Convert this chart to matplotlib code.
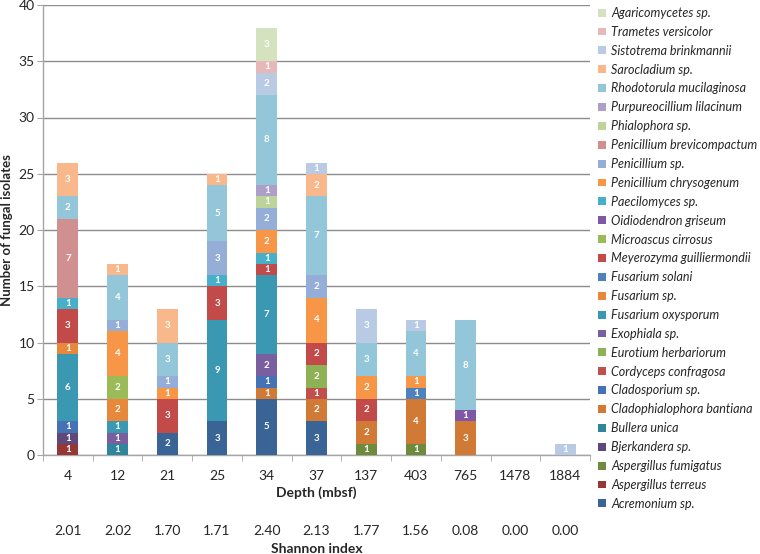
import matplotlib
matplotlib.use("Agg")
import matplotlib.pyplot as plt
import numpy as np
from matplotlib.patches import Patch

plt.rcParams['font.family'] = ['Lato', 'DejaVu Sans']

depths = ["4", "12", "21", "25", "34", "37", "137", "403", "765", "1478", "1884"]
shannon = ["2.01", "2.02", "1.70", "1.71", "2.40", "2.13", "1.77", "1.56", "0.08", "0.00", "0.00"]

# species in stacking order (bottom -> top)
species = [
    "Acremonium sp.", "Aspergillus terreus", "Aspergillus fumigatus", "Bjerkandera sp.",
    "Bullera unica", "Cladophialophora bantiana", "Cladosporium sp.", "Cordyceps confragosa",
    "Eurotium herbariorum", "Exophiala sp.", "Fusarium oxysporum", "Fusarium sp.",
    "Fusarium solani", "Meyerozyma guilliermondii", "Microascus cirrosus", "Oidiodendron griseum",
    "Paecilomyces sp.", "Penicillium chrysogenum", "Penicillium sp.", "Penicillium brevicompactum",
    "Phialophora sp.", "Purpureocillium lilacinum", "Rhodotorula mucilaginosa", "Sarocladium sp.",
    "Sistotrema brinkmannii", "Trametes versicolor", "Agaricomycetes sp.",
]

colors = [
    "#3B6496", "#953735", "#6E8B3D", "#5F497A",
    "#2E859C", "#D07A35", "#4472B4", "#C0504D",
    "#8DB255", "#7A5FA0", "#3A98B3", "#E8883A",
    "#4F81BD", "#C24A48", "#9BBB59", "#7E57A6",
    "#47AFC9", "#F79646", "#95AED8", "#D09090",
    "#BCD39A", "#AE9FC9", "#93C6D8", "#F9B88B",
    "#B9CBE4", "#E6B9B8", "#D4E2C0",
]

# counts per depth (4, 12, 21, 25, 34, 37, 137, 403, 765, 1478, 1884)
acremonium      = [0, 0, 2, 3, 5, 3, 0, 0, 0, 0, 0]
asp_terreus     = [1, 0, 0, 0, 0, 0, 0, 0, 0, 0, 0]
asp_fumigatus   = [0, 0, 0, 0, 0, 0, 1, 1, 0, 0, 0]
bjerkandera     = [1, 0, 0, 0, 0, 0, 0, 0, 0, 0, 0]
bullera         = [0, 1, 0, 0, 0, 0, 0, 0, 0, 0, 0]
cladophialophora= [0, 0, 0, 0, 1, 2, 2, 4, 3, 0, 0]
cladosporium    = [1, 0, 0, 0, 1, 0, 0, 0, 0, 0, 0]
cordyceps       = [0, 0, 0, 0, 0, 1, 0, 0, 0, 0, 0]
eurotium        = [0, 0, 0, 0, 0, 2, 0, 0, 0, 0, 0]
exophiala       = [0, 1, 0, 0, 2, 0, 0, 0, 0, 0, 0]
fus_oxysporum   = [6, 1, 0, 9, 7, 0, 0, 0, 0, 0, 0]
fusarium_sp     = [1, 2, 0, 0, 0, 0, 0, 0, 0, 0, 0]
fus_solani      = [0, 0, 0, 0, 0, 0, 0, 1, 0, 0, 0]
meyerozyma      = [3, 0, 3, 3, 1, 2, 2, 0, 0, 0, 0]
microascus      = [0, 2, 0, 0, 0, 0, 0, 0, 0, 0, 0]
oidiodendron    = [0, 0, 0, 0, 0, 0, 0, 0, 1, 0, 0]
paecilomyces    = [1, 0, 0, 1, 1, 0, 0, 0, 0, 0, 0]
pen_chrysogenum = [0, 4, 1, 0, 2, 4, 2, 1, 0, 0, 0]
penicillium_sp  = [0, 1, 1, 3, 2, 2, 0, 0, 0, 0, 0]
pen_brevicomp   = [7, 0, 0, 0, 0, 0, 0, 0, 0, 0, 0]
phialophora     = [0, 0, 0, 0, 1, 0, 0, 0, 0, 0, 0]
purpureocillium = [0, 0, 0, 0, 1, 0, 0, 0, 0, 0, 0]
rhodotorula     = [2, 4, 3, 5, 8, 7, 3, 4, 8, 0, 0]
sarocladium     = [3, 1, 3, 1, 0, 2, 0, 0, 0, 0, 0]
sistotrema      = [0, 0, 0, 0, 2, 1, 3, 1, 0, 0, 1]
trametes        = [0, 0, 0, 0, 1, 0, 0, 0, 0, 0, 0]
agaricomycetes  = [0, 0, 0, 0, 3, 0, 0, 0, 0, 0, 0]

series = [
    acremonium, asp_terreus, asp_fumigatus, bjerkandera, bullera, cladophialophora,
    cladosporium, cordyceps, eurotium, exophiala, fus_oxysporum, fusarium_sp,
    fus_solani, meyerozyma, microascus, oidiodendron, paecilomyces, pen_chrysogenum,
    penicillium_sp, pen_brevicomp, phialophora, purpureocillium, rhodotorula,
    sarocladium, sistotrema, trametes, agaricomycetes,
]

W, H = 760, 554
fig = plt.figure(figsize=(W / 100, H / 100), dpi=100)
left, right, top, bottom = 43, 590, 5, 455
ax = fig.add_axes([left / W, 1 - bottom / H, (right - left) / W, (bottom - top) / H])

x = np.arange(len(depths))
base = np.zeros(len(depths))
for name, vals, col in zip(species, series, colors):
    v = np.array(vals, dtype=float)
    ax.bar(x, v, width=0.42, bottom=base, color=col, edgecolor='none', zorder=3)
    for xi, b, val in zip(x, base, v):
        if val > 0:
            ax.text(xi, b + val / 2, f"{int(val)}", ha='center', va='center',
                    color='white', fontsize=7, fontweight='bold', zorder=4)
    base += v

ax.set_xlim(-0.5, len(depths) - 0.5)
ax.set_ylim(0, 40)
ax.set_yticks(np.arange(0, 41, 5))
ax.yaxis.grid(True, color='#8C8C8C', linewidth=1.0, zorder=0)
ax.set_axisbelow(True)
for s in ['top', 'right']:
    ax.spines[s].set_visible(False)
for s in ['left', 'bottom']:
    ax.spines[s].set_color('#A6A6A6')
    ax.spines[s].set_linewidth(1.0)
ax.tick_params(axis='y', length=4, color='#A6A6A6', labelsize=10, labelcolor='#262626', pad=2)
ax.set_xticks(x)
ax.set_xticklabels(depths)
ax.set_xticks(np.arange(-0.5, len(depths) + 0.5, 1), minor=True)
ax.tick_params(axis='x', which='major', length=0, labelsize=10, labelcolor='#262626', pad=11)
ax.tick_params(axis='x', which='minor', length=4, color='#A6A6A6')
ax.set_xlabel("Depth (mbsf)", fontsize=10, fontweight='bold', color='#262626', labelpad=3)
ax.set_ylabel("Number of fungal isolates", fontsize=9.5, fontweight='bold', color='#262626', labelpad=4)

# Shannon index row
trans = ax.get_xaxis_transform()
for xi, s in zip(x, shannon):
    ax.text(xi, 1 - (531 - top) / (bottom - top), s, transform=trans, ha='center', va='center',
            fontsize=10, color='#262626')
ax.text(0.5, 1 - (549 - top) / (bottom - top), "Shannon index", transform=ax.transAxes,
        ha='center', va='center', fontsize=10, fontweight='bold', color='#262626')

handles = [Patch(facecolor=c, edgecolor='none') for c in colors][::-1]
labels = species[::-1]
fig.legend(handles, labels, loc='upper left', bbox_to_anchor=(593 / W, 1 - 2 / H),
           frameon=False, prop={'style': 'italic', 'size': 9}, handlelength=0.6,
           handleheight=0.6, handletextpad=0.45, labelspacing=0.55, borderaxespad=0,
           labelcolor='#262626')

fig.savefig("out.png", dpi=100)
